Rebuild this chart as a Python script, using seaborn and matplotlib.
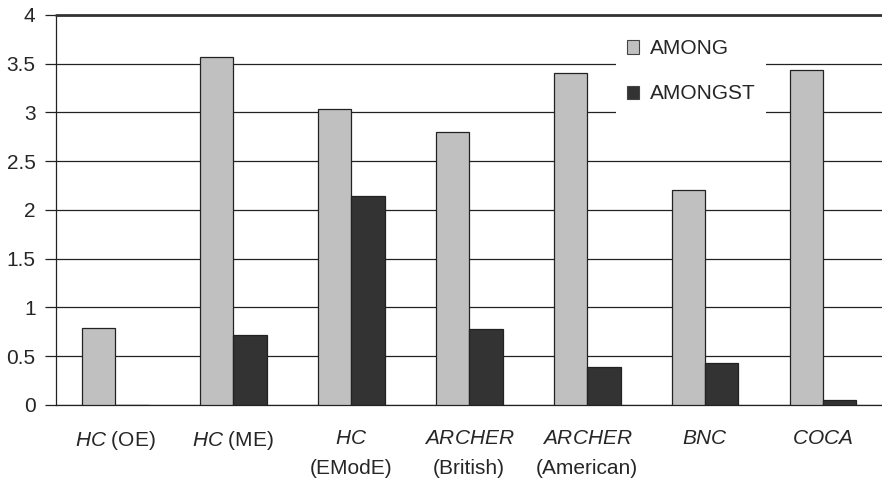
import pandas as pd
import numpy as np
import matplotlib
matplotlib.use('Agg')
import matplotlib.pyplot as plt
import seaborn as sns
from matplotlib.patches import Patch

# data
categories = ["HC (OE)", "HC (ME)", "HC (EModE)", "ARCHER (British)",
              "ARCHER (American)", "BNC", "COCA"]
tick_labels = [r"$\mathit{HC}$ (OE)", r"$\mathit{HC}$ (ME)", "$\\mathit{HC}$\n(EModE)",
               "$\\mathit{ARCHER}$\n(British)", "$\\mathit{ARCHER}$\n(American)",
               r"$\mathit{BNC}$", r"$\mathit{COCA}$"]
among = [0.79, 3.57, 3.04, 2.80, 3.41, 2.21, 3.44]
amongst = [0.0, 0.72, 2.14, 0.78, 0.39, 0.43, 0.05]

df = pd.DataFrame({
    "corpus": categories * 2,
    "word": ["AMONG"] * len(categories) + ["AMONGST"] * len(categories),
    "value": among + amongst,
})

sns.set_style("white")
plt.rcParams['font.family'] = ['Liberation Sans', 'DejaVu Sans']
plt.rcParams['mathtext.fontset'] = 'custom'
plt.rcParams['mathtext.rm'] = 'Liberation Sans'
plt.rcParams['mathtext.it'] = 'Liberation Sans:italic'

colors = {"AMONG": "#c0c0c0", "AMONGST": "#333333"}
fs = 15

fig = plt.figure(figsize=(8.82, 4.83), dpi=100)
ax = fig.add_axes([0.064, 0.1615, 0.936, 0.8075])

sns.barplot(data=df, x="corpus", y="value", hue="word", palette=colors,
            width=0.566, edgecolor="#222222", linewidth=0.9, ax=ax,
            legend=False, zorder=3)

ax.set_ylim(0, 4)
ax.set_xlim(-0.5, 6.5)
ax.set_yticks(np.arange(0, 4.01, 0.5))
ax.set_yticklabels(["0", "0.5", "1", "1.5", "2", "2.5", "3", "3.5", "4"], fontsize=fs)
ax.yaxis.grid(True, color="#222222", linewidth=0.9, zorder=0)
ax.set_axisbelow(True)
# top border line of the plot area
ax.axhline(4, color="#333333", linewidth=2, zorder=6, clip_on=False)

ax.set_xticks(range(len(categories)))
ax.set_xticklabels(tick_labels, fontsize=fs, linespacing=1.75)
ax.tick_params(axis='x', length=0, pad=17)
ax.set_xticks(np.arange(-0.5, 6, 1), minor=True)
ax.tick_params(axis='x', which='minor', direction='out', length=8, color='#222222', width=0.9)
ax.tick_params(axis='y', direction='out', length=8, color='#222222', width=0.9, left=True, pad=7)

for s in ["top", "right"]:
    ax.spines[s].set_visible(False)
ax.spines["left"].set_color("#222222")
ax.spines["bottom"].set_color("#222222")
ax.spines["left"].set_linewidth(0.9)
ax.spines["bottom"].set_linewidth(0.9)
ax.set_xlabel("")
ax.set_ylabel("")

handles = [Patch(facecolor=colors[k], edgecolor="#444444", linewidth=0.8) for k in ["AMONG", "AMONGST"]]
leg = ax.legend(handles, ["AMONG", "AMONGST"], loc="upper left",
                bbox_to_anchor=(0.678, 0.964), fontsize=fs, frameon=True,
                handlelength=0.6, handleheight=0.6, handletextpad=0.5,
                labelspacing=1.25, borderpad=0.5, fancybox=False, borderaxespad=0)
leg.get_frame().set_facecolor("white")
leg.get_frame().set_edgecolor("none")
leg.get_frame().set_alpha(1)
leg.set_zorder(5)

fig.savefig("out.png", dpi=100)
